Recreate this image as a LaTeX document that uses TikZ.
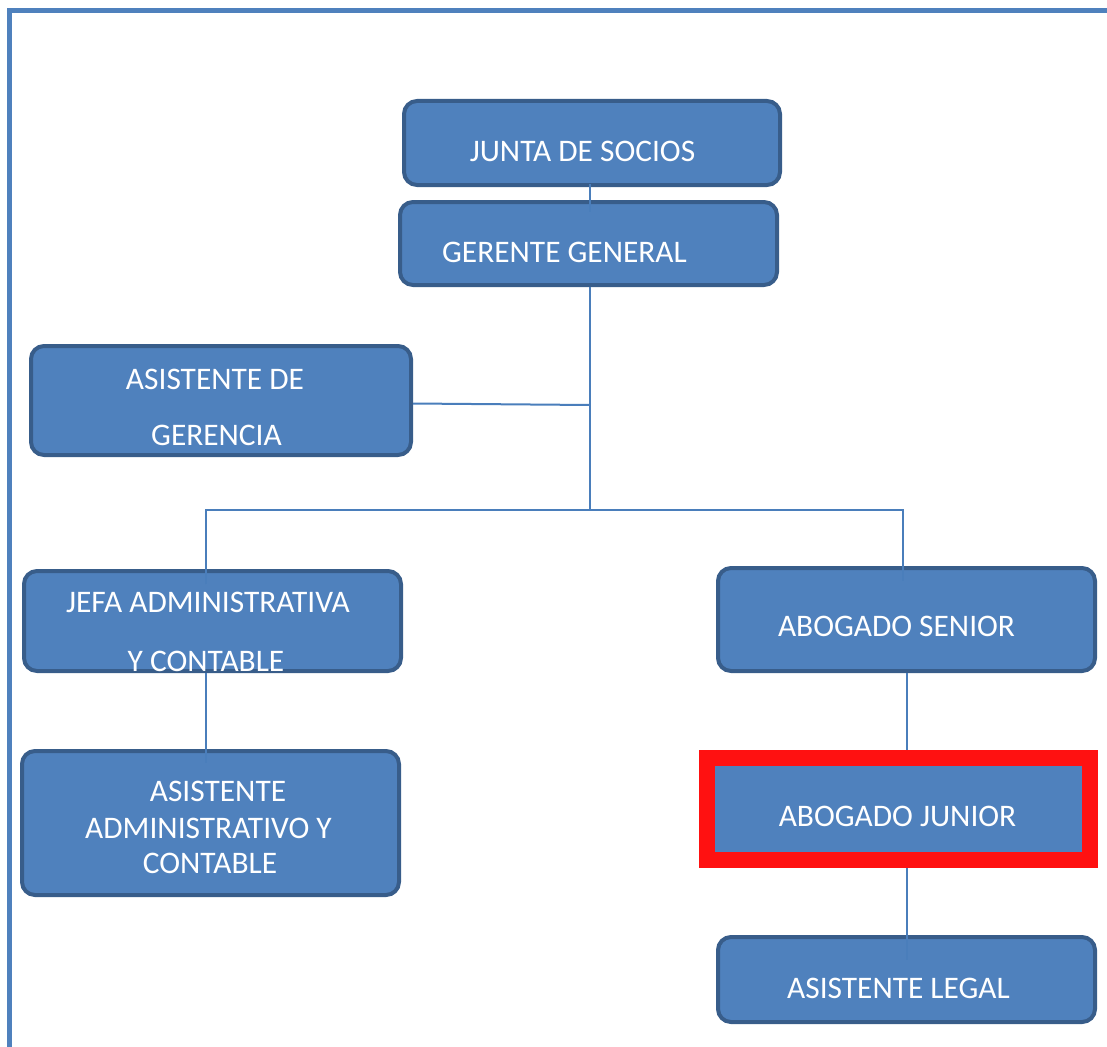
\documentclass[tikz,border=0pt]{standalone}
\usepackage{fontspec}
\setmainfont{Carlito}
\usetikzlibrary{calc}

\definecolor{boxfill}{HTML}{4F81BD}
\definecolor{boxline}{HTML}{385D8A}
\definecolor{linkblue}{HTML}{4A7EBB}
\definecolor{markred}{HTML}{FF1111}

\tikzset{
  puesto/.style={rectangle, rounded corners=13pt, fill=boxfill, draw=boxline, line width=4pt},
  rotulo/.style={anchor=base, text=white, inner sep=0pt, font=\fontsize{31.4}{37}\selectfont},
  enlace/.style={draw=linkblue, line width=2pt},
}

\begin{document}
\begin{tikzpicture}[x=1pt, y=-1pt]
  \useasboundingbox (0,0) rectangle (1107,1046);

  % page frame
  \draw[boxfill, line width=5pt] (1112,10.5) -- (9.5,10.5) -- (9.5,1052);

  % boxes
  \node[puesto, minimum width=376pt, minimum height=84pt] (junta) at (592,143) {};
  \node[puesto, minimum width=377pt, minimum height=83pt] (gerente) at (588.5,243.5) {};
  \node[puesto, minimum width=380pt, minimum height=109pt] (asistger) at (221,400.5) {};
  \node[puesto, minimum width=377pt, minimum height=100pt] (jefa) at (212.5,621) {};
  \node[puesto, minimum width=377pt, minimum height=103pt] (senior) at (906.5,619.5) {};
  \node[puesto, minimum width=377pt, minimum height=144pt] (asistadm) at (210.5,823) {};
  \node[rectangle, fill=boxfill, draw=markred, line width=16pt,
        minimum width=383pt, minimum height=102pt] (junior) at (898.5,809) {};
  \node[puesto, minimum width=377pt, minimum height=85pt] (legal) at (906.5,979.5) {};

  % connectors
  \coordinate (hub) at (590,405);
  \coordinate (cruce) at (590,510);
  \coordinate (izq) at (206,510);
  \coordinate (der) at (903,510);

  \draw[enlace] ($(junta.south -| hub)+(0,-3)$) -- ($(gerente.north -| hub)+(0,12)$);
  \draw[enlace] (gerente.south -| hub) -- (cruce);
  \draw[enlace] ($(asistger.east)+(0,3)$) -- (hub);
  \draw[enlace] ($(jefa.north -| izq)+(0,15)$) -- (izq) -- (der) -- ($(senior.north -| der)+(0,15)$);
  \draw[enlace] (jefa.south -| izq) -- ($(asistadm.north -| izq)+(0,14)$);
  \draw[enlace] (senior.south) -- (junior.north -| senior.south);
  \draw[enlace] (junior.south -| legal.north) -- ($(legal.north)+(0,25)$);

  % labels
  \node[rotulo] (junta-t) at (582.5,161) {JUNTA DE SOCIOS};
  \node[rotulo] (gerente-t) at (564.5,262) {GERENTE GENERAL};
  \node[rotulo] (asistger-t1) at (215,389) {ASISTENTE DE};
  \node[rotulo] (asistger-t2) at (216.5,445) {GERENCIA};
  \node[rotulo] (jefa-t1) at (208,612) {JEFA ADMINISTRATIVA};
  \node[rotulo] (jefa-t2) at (206,671.5) {Y CONTABLE};
  \node[rotulo] (senior-t) at (896.5,636) {ABOGADO SENIOR};
  \node[rotulo] (asistadm-t1) at (218,801.5) {ASISTENTE};
  \node[rotulo] (asistadm-t2) at (208.5,838) {ADMINISTRATIVO Y};
  \node[rotulo] (asistadm-t3) at (210,873.5) {CONTABLE};
  \node[rotulo] (junior-t) at (897.5,826) {ABOGADO JUNIOR};
  \node[rotulo] (legal-t) at (898.5,998) {ASISTENTE LEGAL};
\end{tikzpicture}
\end{document}
